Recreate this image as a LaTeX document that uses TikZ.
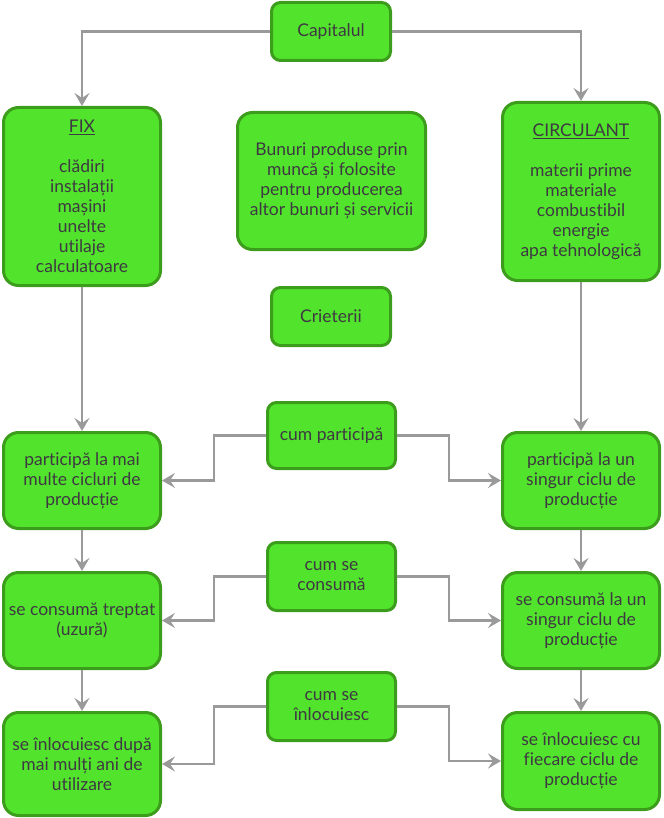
\documentclass[tikz,border=0pt]{standalone}
\usepackage{fontspec}
\setmainfont{Lato}[Ligatures=NoCommon]
\usetikzlibrary{arrows.meta,calc,positioning}

\definecolor{boxfill}{HTML}{52E42C}
\definecolor{boxline}{HTML}{3C9C1C}
\definecolor{txtcol}{HTML}{3E3842}
\definecolor{conngray}{HTML}{9A9A9A}

\tikzset{
  box/.style={draw=boxline, fill=boxfill, line width=3pt, text=txtcol,
              align=center, inner sep=0pt, font=\fontsize{17.5}{20}\selectfont},
  bigbox/.style={box, rounded corners=15pt, minimum width=157pt},
  smallbox/.style={box, rounded corners=9pt},
  conn/.style={draw=conngray, line width=2.6pt,
               -{Stealth[length=13pt,width=15pt,inset=5pt]}},
}

\begin{document}
\begin{tikzpicture}[x=1pt,y=-1pt]
  \useasboundingbox (0,0) rectangle (663,818);
  % Define dimensions
  \def\xl{82}
  \def\xm{331.5}
  \def\xr{581}

  % Define points
  \coordinate (Pcap) at (331,31.5);
  \coordinate (Pfix) at (\xl,196.5);
  \coordinate (Pbun) at (\xm,181);
  \coordinate (Pcirc) at (\xr,191.5);
  \coordinate (Pcrit) at (331,316.5);

  \coordinate (Plp) at (\xl,480.5);
  \coordinate (Pcp) at (\xm,435.5);
  \coordinate (Prp) at (\xr,480.5);

  \coordinate (Plc) at (\xl,620.5);
  \coordinate (Pcc) at (\xm,576.5);
  \coordinate (Prc) at (\xr,620.5);

  \coordinate (Pli) at (\xl,764);
  \coordinate (Pci) at (\xm,706.5);
  \coordinate (Pri) at (\xr,761);

  % Top boxes
  \node[smallbox, minimum width=119pt, minimum height=58pt] (cap) at (Pcap) {Capitalul};
  \node[bigbox, minimum height=178pt] (fix) at (Pfix)
    {\underline{FIX}\\[20pt]clădiri\\instalații\\mașini\\unelte\\utilaje\\calculatoare};
  \node[bigbox, minimum width=188pt, minimum height=137pt] (bun) at (Pbun)
    {Bunuri produse prin\\muncă și folosite\\pentru producerea\\altor bunuri și servicii};
  \node[bigbox, minimum height=178pt] (circ) at (Pcirc)
    {\underline{CIRCULANT}\\[20pt]materii prime\\materiale\\combustibil\\energie\\apa tehnologică};
  \node[smallbox, minimum width=119pt, minimum height=58pt] (crit) at (Pcrit) {Crieterii};

  % Criteria rows
  \node[bigbox, minimum height=96pt] (lp) at (Plp) {participă la mai\\multe cicluri de\\producție};
  \node[smallbox, minimum width=128pt, minimum height=66pt] (cp) at (Pcp) {cum participă};
  \node[bigbox, minimum height=96pt] (rp) at (Prp) {participă la un\\singur ciclu de\\producție};

  \node[bigbox, minimum height=96pt] (lc) at (Plc) {se consumă treptat\\(uzură)};
  \node[smallbox, minimum width=128pt, minimum height=68pt] (cc) at (Pcc) {cum se\\consumă};
  \node[bigbox, minimum height=96pt] (rc) at (Prc) {se consumă la un\\singur ciclu de\\producție};

  \node[bigbox, minimum height=103pt] (li) at (Pli) {se înlocuiesc după\\mai mulți ani de\\utilizare};
  \node[smallbox, minimum width=128pt, minimum height=68pt] (ci) at (Pci) {cum se\\înlocuiesc};
  \node[bigbox, minimum height=97pt] (ri) at (Pri) {se înlocuiesc cu\\fiecare ciclu de\\producție};

  % Draw connectors
  \draw[conn] (cap.west) -| (fix.north);
  \draw[conn] (cap.east) -| (circ.north);

  \foreach \a/\b in {fix/lp, lp/lc, lc/li, circ/rp, rp/rc, rc/ri}
      \draw[conn] (\a.south) -- (\b.north);

  \foreach \c/\l/\r in {cp/lp/rp, cc/lc/rc, ci/li/ri} {%
      \draw[conn] (\c.west) -| ($(\c.west)!.5!(\l.east)$) |- (\l.east);
      \draw[conn] (\c.east) -| ($(\c.east)!.5!(\r.west)$) |- (\r.west);
  }
\end{tikzpicture}
\end{document}
